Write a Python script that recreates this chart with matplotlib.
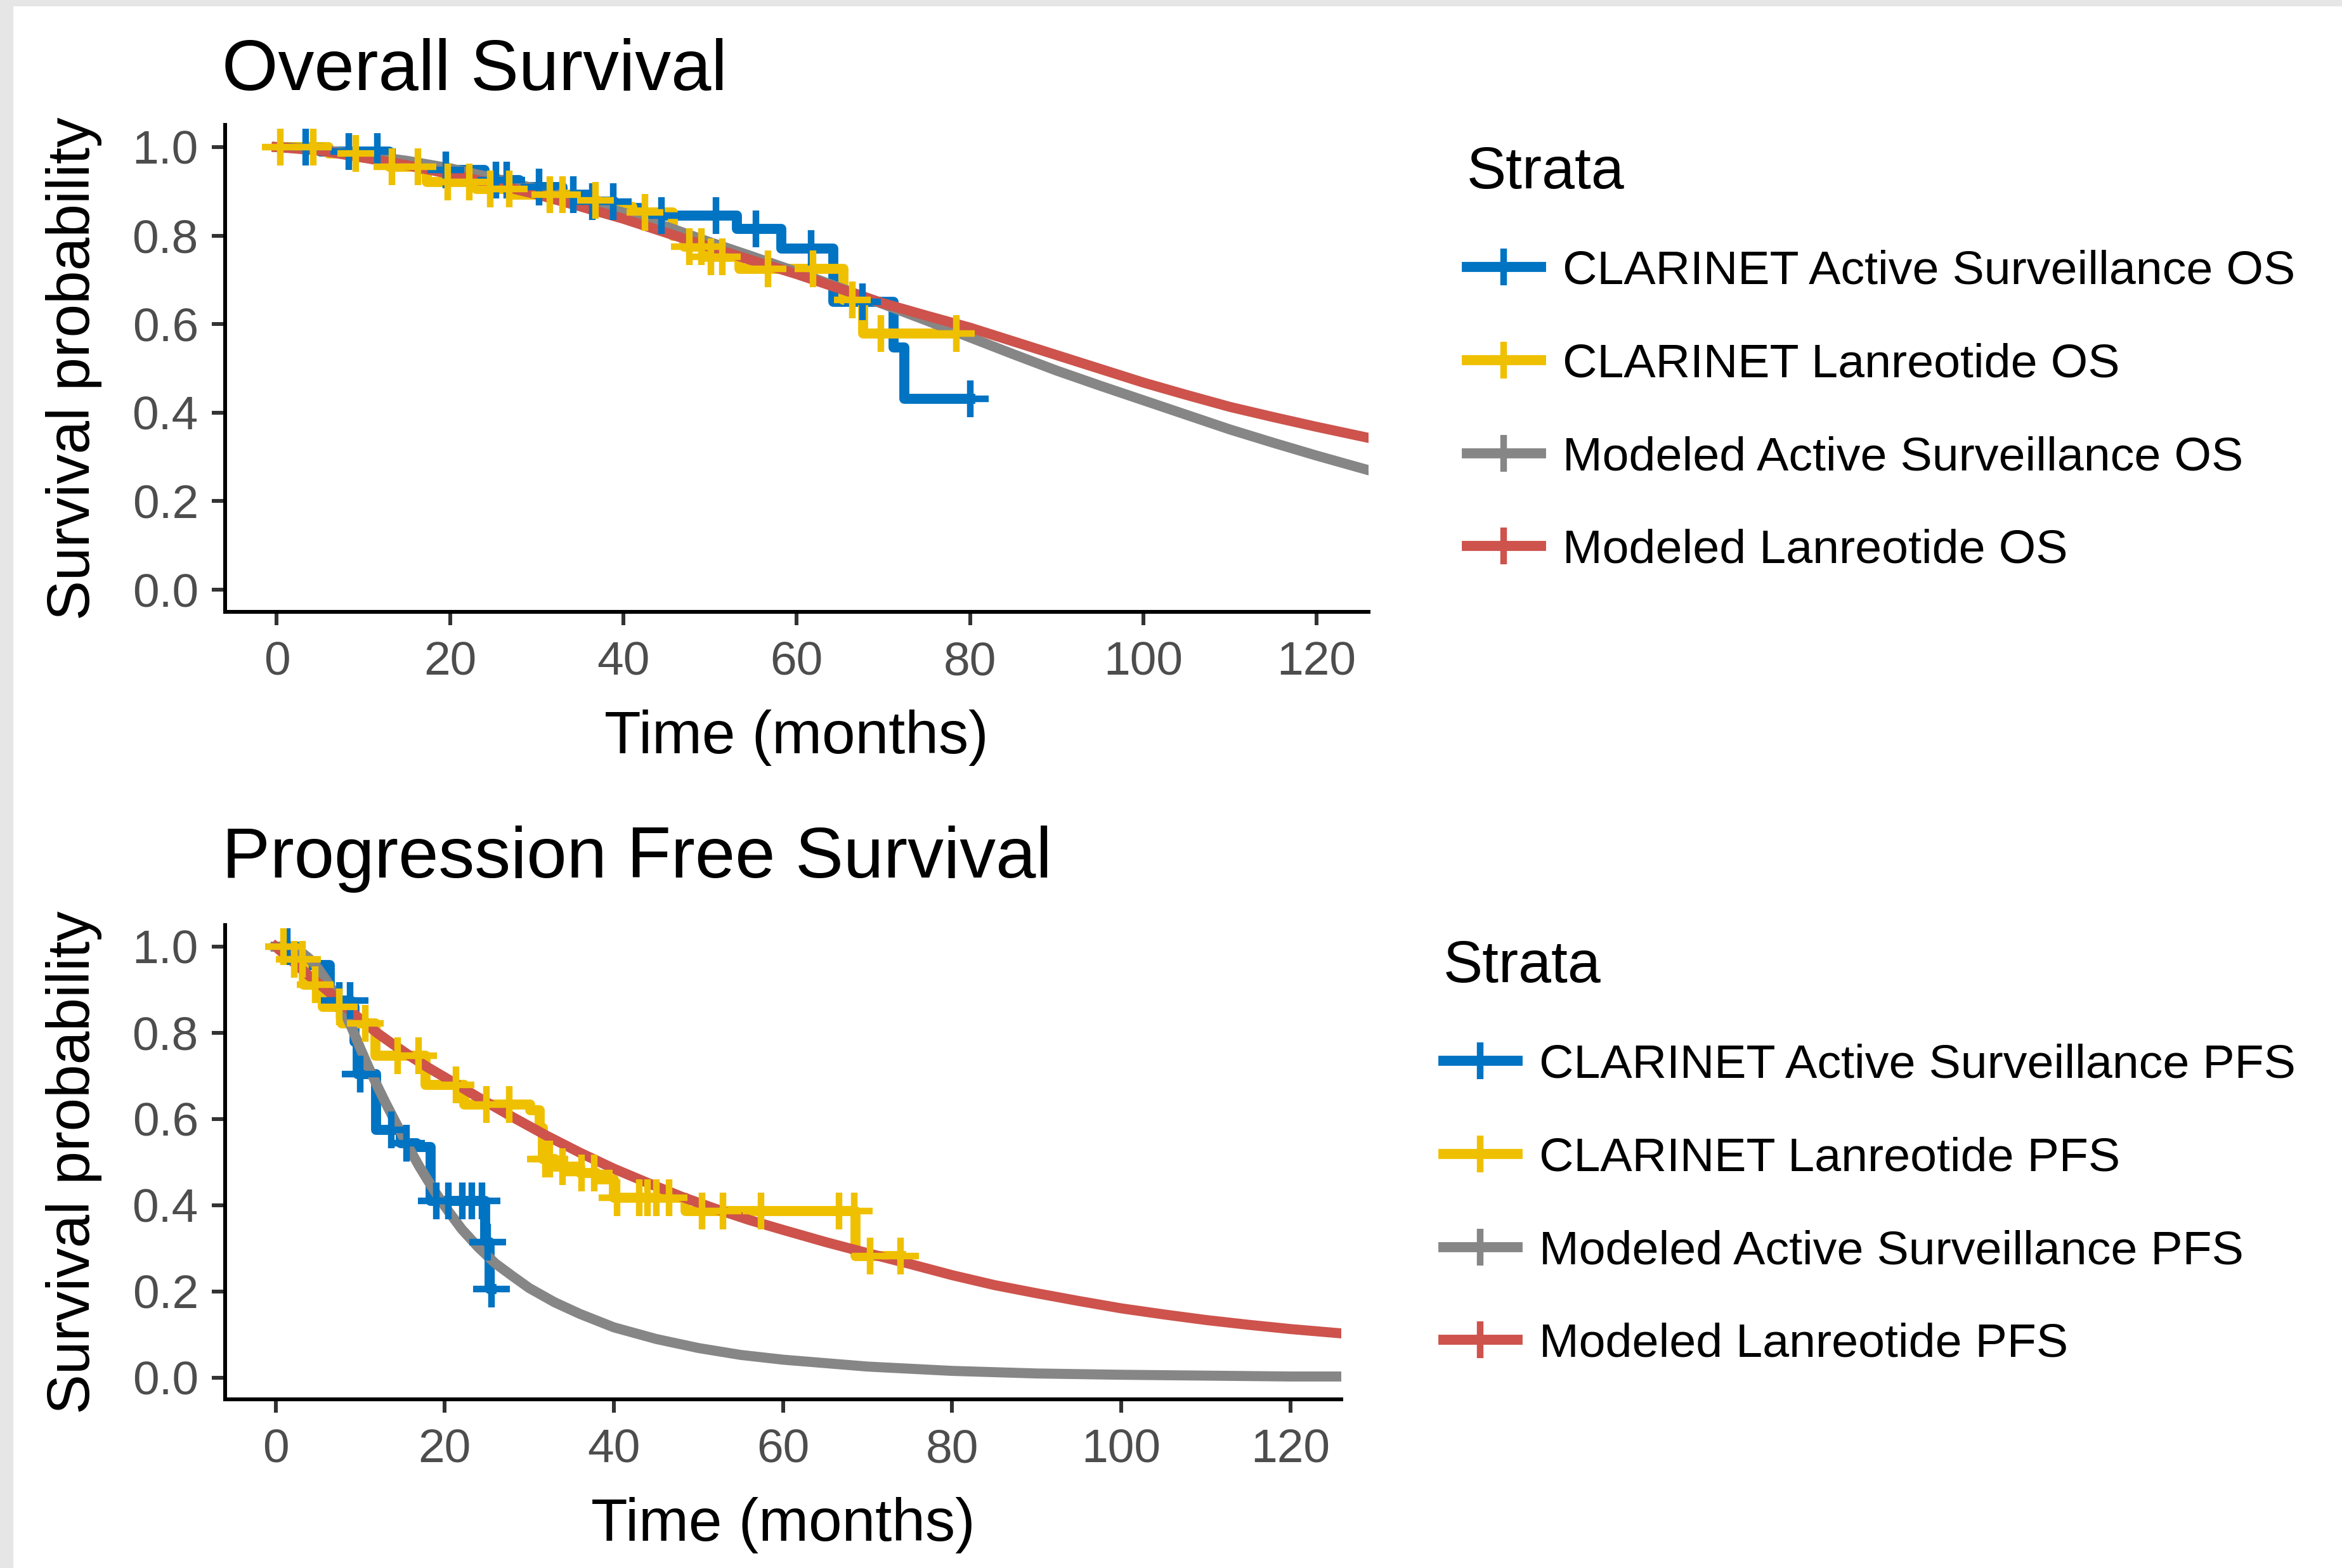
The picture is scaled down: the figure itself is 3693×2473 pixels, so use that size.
import numpy as np
import matplotlib
matplotlib.use("Agg")
import matplotlib.pyplot as plt
from matplotlib.lines import Line2D
from matplotlib.patches import Rectangle

plt.rcParams['font.family'] = ['Liberation Sans', 'DejaVu Sans']

# ---------------- data ----------------
x_ticks = [0, 20, 40, 60, 80, 100, 120]
y_ticks = [0.0, 0.2, 0.4, 0.6, 0.8, 1.0]

colors = ['#0073C2', '#EFC000', '#868686', '#CD534C']
os_labels = ['CLARINET Active Surveillance OS', 'CLARINET Lanreotide OS',
             'Modeled Active Surveillance OS', 'Modeled Lanreotide OS']
pfs_labels = ['CLARINET Active Surveillance PFS', 'CLARINET Lanreotide PFS',
              'Modeled Active Surveillance PFS', 'Modeled Lanreotide PFS']

# OS - CLARINET Active Surveillance (Kaplan-Meier steps)
os_as_t = [0, 5, 13, 17, 24, 28, 33, 36, 39, 42, 53.1, 58.2, 64.2, 71.2, 72.4]
os_as_s = [1.0, 0.99, 0.96, 0.948, 0.925, 0.91, 0.893, 0.876, 0.862, 0.845,
           0.815, 0.771, 0.650, 0.547, 0.431]
os_as_end = 80.0
os_as_cens = [3.3, 8.3, 11.6, 19.5, 25.3, 26.5, 30.3, 34.2, 36.4, 38.8, 44.4,
              50.7, 55.3, 61.7, 67.6, 80.0]

# OS - CLARINET Lanreotide
os_lan_t = [0, 6, 10, 13, 17.3, 23, 27, 34, 37, 41, 45.7, 47, 49.5, 53.4, 65.4, 67.7]
os_lan_s = [1.0, 0.985, 0.975, 0.955, 0.921, 0.905, 0.893, 0.88, 0.865, 0.852,
            0.80, 0.775, 0.752, 0.725, 0.655, 0.579]
os_lan_end = 78.4
os_lan_cens = [0.4, 4.2, 9.1, 13.3, 16.3, 19.7, 22.2, 24.6, 26.8, 31.5, 33.0,
               36.8, 42.5, 47.6, 49.0, 50.1, 51.4, 56.7, 61.9, 66.4, 69.7, 78.4]

# OS - modeled curves
os_mod_t = [0, 5, 10, 15, 20, 25, 30, 35, 40, 45, 50, 55, 60, 65, 70, 75, 80,
            85, 90, 95, 100, 105, 110, 115, 120, 126]
os_mod_as = [1.0, 0.994, 0.982, 0.969, 0.952, 0.930, 0.905, 0.880, 0.852, 0.820,
             0.785, 0.752, 0.718, 0.682, 0.645, 0.608, 0.570, 0.532, 0.495, 0.461,
             0.428, 0.395, 0.362, 0.332, 0.303, 0.270]
os_mod_lan = [1.0, 0.992, 0.976, 0.959, 0.939, 0.917, 0.893, 0.866, 0.838, 0.806,
              0.774, 0.743, 0.713, 0.680, 0.647, 0.619, 0.592, 0.561, 0.530, 0.499,
              0.468, 0.440, 0.413, 0.390, 0.368, 0.343]

# PFS - CLARINET Active Surveillance
pfs_as_t = [0, 2.6, 3.7, 6.4, 8.9, 9.3, 9.7, 11.9, 14.8, 16.7, 18.3, 24.8, 25.3]
pfs_as_s = [1.0, 0.976, 0.957, 0.875, 0.86, 0.78, 0.705, 0.575, 0.544, 0.535,
            0.41, 0.315, 0.206]
pfs_as_end = 25.5
pfs_as_cens = [1.4, 7.5, 8.8, 10.0, 13.7, 15.5, 19.0, 20.4, 22.1, 23.2, 24.4,
               25.1, 25.5]

# PFS - CLARINET Lanreotide
pfs_lan_t = [0, 1.4, 3.3, 5.6, 7.8, 11.8, 17.7, 22.3, 30.1, 31.2, 31.6, 33.0,
             36.0, 38.0, 40.0, 48.5, 68.6]
pfs_lan_s = [1.0, 0.97, 0.912, 0.86, 0.822, 0.747, 0.68, 0.634, 0.62, 0.58,
             0.507, 0.49, 0.475, 0.46, 0.417, 0.387, 0.282]
pfs_lan_end = 74.0
pfs_lan_cens = [0.9, 2.2, 3.2, 4.7, 7.5, 10.6, 14.4, 16.9, 21.3, 24.9, 27.6,
                31.9, 32.4, 33.9, 36.2, 37.7, 40.4, 43.0, 44.0, 45.0, 46.5, 50.4,
                52.9, 57.4, 66.6, 68.4, 70.3, 73.9]

# PFS - modeled curves
pfs_mod_as_t = [0, 1, 2, 3, 4, 5, 6, 7, 8, 9, 10, 11, 12, 13, 14, 15, 16, 17, 18,
                19, 20, 22, 24, 26, 28, 30, 33, 36, 40, 45, 50, 55, 60, 70, 80,
                90, 100, 110, 120, 126]
pfs_mod_as = [1.0, 1.0, 0.997, 0.988, 0.972, 0.95, 0.922, 0.89, 0.855, 0.812,
              0.765, 0.72, 0.678, 0.638, 0.60, 0.562, 0.525, 0.49, 0.458, 0.427,
              0.398, 0.345, 0.302, 0.265, 0.236, 0.208, 0.175, 0.148, 0.117,
              0.09, 0.069, 0.053, 0.042, 0.026, 0.016, 0.010, 0.007, 0.005,
              0.003, 0.003]
pfs_mod_lan_t = [0, 2, 4, 6, 8, 10, 12, 14, 16, 18, 20, 24, 28, 32, 36, 40, 44,
                 48, 52, 56, 60, 65, 70, 75, 80, 85, 90, 95, 100, 105, 110, 115,
                 120, 126]
pfs_mod_lan = [1.0, 0.966, 0.932, 0.90, 0.865, 0.832, 0.80, 0.772, 0.745, 0.72,
               0.697, 0.65, 0.605, 0.562, 0.522, 0.485, 0.452, 0.42, 0.392, 0.366,
               0.343, 0.315, 0.289, 0.264, 0.238, 0.215, 0.196, 0.178, 0.161,
               0.147, 0.134, 0.123, 0.113, 0.103]

# ---------------- figure ----------------
W, H, DPI = 3693, 2473, 300
fig = plt.figure(figsize=(W / DPI, H / DPI), dpi=DPI, facecolor='white')
fig.add_artist(Rectangle((0, 0), 21 / W, 1, transform=fig.transFigure,
                         facecolor='#e6e6e6', edgecolor='none', zorder=-10))
fig.add_artist(Rectangle((0, 1 - 10 / H), 1, 10 / H, transform=fig.transFigure,
                         facecolor='#e6e6e6', edgecolor='none', zorder=-10))

LW = 3.8      # line width (pt)
MS = 14.0     # censor mark size (pt)
MEW = 2.5     # censor mark stroke (pt)

ax1 = fig.add_axes([354.5 / W, 1 - 965 / H, (2158 - 354.5) / W, (965 - 197) / H])
ax2 = fig.add_axes([354.5 / W, 1 - 2207 / H, (2115 - 354.5) / W, (2207 - 1459) / H])


def style(ax):
    ax.set_facecolor('none')
    ax.set_xlim(-6, 126)
    ax.set_ylim(-0.05, 1.05)
    ax.set_xticks(x_ticks)
    ax.set_xticklabels([str(v) for v in x_ticks])
    ax.set_yticks(y_ticks)
    ax.set_yticklabels([f"{v:.1f}" for v in y_ticks])
    for s in ['top', 'right']:
        ax.spines[s].set_visible(False)
    for s in ['left', 'bottom']:
        ax.spines[s].set_linewidth(1.45)
        ax.spines[s].set_color('black')
    ax.tick_params(axis='both', length=5, width=1.45, color='#333333',
                   labelcolor='#4d4d4d', labelsize=18)
    ax.tick_params(axis='x', pad=6.0)
    ax.tick_params(axis='y', pad=5.0)
    ax.set_xlabel('Time (months)', fontsize=22.7, labelpad=9.5)
    ax.set_ylabel('Survival probability', fontsize=22.7, labelpad=11.5)


def km(ax, t, s, t_end, cens, color):
    t = np.asarray(t, float)
    s = np.asarray(s, float)
    tt = np.append(t, t_end)
    ss = np.append(s, s[-1])
    ax.step(tt, ss, where='post', color=color, lw=LW, solid_joinstyle='round',
            zorder=2)
    idx = np.searchsorted(t, np.asarray(cens, float), side='right') - 1
    ax.plot(cens, s[idx], ls='none', marker='+', ms=MS, mew=MEW, color=color,
            zorder=5)


def legend(ax, labels, x, y):
    handles = [Line2D([], [], color=c, lw=LW, marker='+', ms=MS, mew=MEW)
               for c in colors]
    ax.legend(handles, labels, title='Strata', loc='upper left',
              bbox_to_anchor=(x, y), bbox_transform=fig.transFigure,
              frameon=False, fontsize=18.1, title_fontsize=22.4,
              handlelength=1.55, handletextpad=0.45, labelspacing=1.03,
              borderpad=0, borderaxespad=0, alignment='left')


# Overall survival
style(ax1)
km(ax1, os_as_t, os_as_s, os_as_end, os_as_cens, colors[0])
km(ax1, os_lan_t, os_lan_s, os_lan_end, os_lan_cens, colors[1])
ax1.plot(os_mod_t, os_mod_as, color=colors[2], lw=LW, zorder=3)
ax1.plot(os_mod_t, os_mod_lan, color=colors[3], lw=LW, zorder=4)
legend(ax1, os_labels, 2313 / W, 1 - 230 / H)

# Progression free survival
style(ax2)
km(ax2, pfs_as_t, pfs_as_s, pfs_as_end, pfs_as_cens, colors[0])
km(ax2, pfs_lan_t, pfs_lan_s, pfs_lan_end, pfs_lan_cens, colors[1])
ax2.plot(pfs_mod_as_t, pfs_mod_as, color=colors[2], lw=LW, zorder=3)
ax2.plot(pfs_mod_lan_t, pfs_mod_lan, color=colors[3], lw=LW, zorder=4)
legend(ax2, pfs_labels, 2276 / W, 1 - 1482 / H)

fig.text(350 / W, 1 - 141.6 / H, 'Overall Survival', fontsize=27.3,
         va='baseline', ha='left', color='black')
fig.text(350 / W, 1 - 1384 / H, 'Progression Free Survival', fontsize=27.3,
         va='baseline', ha='left', color='black')

fig.savefig('out.png', dpi=DPI, facecolor=fig.get_facecolor())
